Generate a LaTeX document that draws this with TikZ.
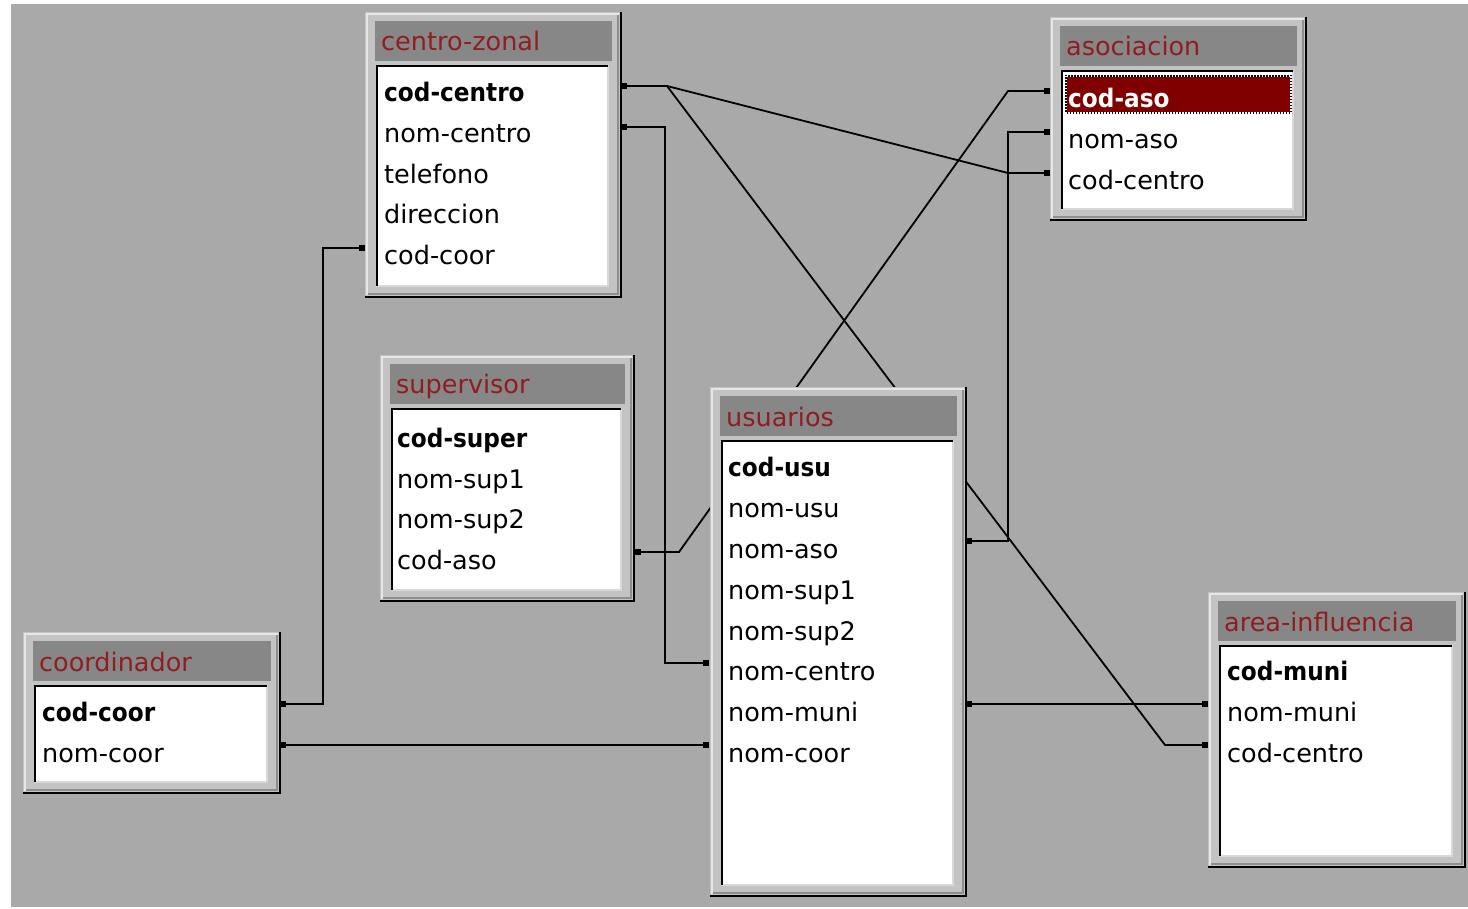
\documentclass[tikz,border=0pt]{standalone}
\usepackage{fontspec}
\setmainfont{DejaVu Sans}
\definecolor{bggray}{HTML}{A9A9A9}
\definecolor{framegray}{HTML}{C3C3C3}
\definecolor{framelight}{HTML}{E6E6E6}
\definecolor{framedark}{HTML}{8E8E8E}
\definecolor{headgray}{HTML}{878787}
\definecolor{listlight}{HTML}{D8D8D8}
\definecolor{titlered}{HTML}{8E1E22}
\definecolor{selred}{HTML}{800000}
\newcommand{\keyf}[1]{\scalebox{0.91}[1]{\bfseries #1}}
\newcommand{\dbtable}[6]{%
  \fill[framegray] (#2,#3) rectangle (#4,#5);
  \draw[framelight, line width=2pt] (#2+2,#5-3) -- (#2+2,#3+2) -- (#4-3,#3+2);
  \draw[framedark, line width=2pt] (#2+3,#5-4) -- (#4-4,#5-4) -- (#4-4,#3+3);
  \draw[black, line width=2.5pt] (#2,#5-1.2) -- (#4-1.2,#5-1.2) -- (#4-1.2,#3);
  \fill[headgray] (#2+10,#3+9) rectangle (#4-10,#3+49);
  \node[titletext] (#1-title) at (#2+16,#3+39) {#6};
  \fill[white] (#2+11,#3+53) rectangle (#4-14,#5-12);
  \draw[listlight, line width=2pt] (#2+11,#5-12) -- (#4-14,#5-12) -- (#4-14,#3+53);
  \draw[black, line width=2pt] (#2+12,#5-12) -- (#2+12,#3+54) -- (#4-14,#3+54);
}
\tikzset{
  conn/.style={line width=1.8pt, black},
  enddot/.style={rectangle, fill=black, minimum size=6pt, inner sep=0pt},
  rowtext/.style={anchor=base west, inner sep=0pt, font=\fontsize{25.5}{30}\selectfont, text=black},
  titletext/.style={anchor=base west, inner sep=0pt, font=\fontsize{25.5}{30}\selectfont, text=titlered},
}
\begin{document}
\begin{tikzpicture}[x=1pt,y=-1pt]
\useasboundingbox (0,0) rectangle (1468,909);
\fill[white] (0,0) rectangle (1468,909);
\fill[bggray] (11,4) rectangle (1468,907);

% connector end coordinates
\coordinate (czA) at (624,86);
\coordinate (czB) at (624,127);
\coordinate (czC) at (362,248);
\coordinate (asoA) at (1047,91);
\coordinate (asoB) at (1047,132);
\coordinate (asoC) at (1047,173);
\coordinate (supA) at (638,552);
\coordinate (usuA) at (969,541);
\coordinate (usuB) at (706,663);
\coordinate (usuC) at (969,704);
\coordinate (usuD) at (706,745);
\coordinate (coA) at (283,704);
\coordinate (coB) at (283,745);
\coordinate (arA) at (1205,704);
\coordinate (arB) at (1205,745);
\coordinate (j1) at (667,86);

% connectors (drawn first, tables overlay them)
\draw[conn] (czA) -- (j1) -- (1008,173) -- (asoC);
\draw[conn] (j1) -- (1165,745) -- (arB);
\draw[conn] (czB) -- (665,127) -- (665,663) -- (usuB);
\draw[conn] (czC) -- (323,248) -- (323,704) -- (coA);
\draw[conn] (coB) -- (usuD);
\draw[conn] (supA) -- (679,552) -- (1008,91) -- (asoA);
\draw[conn] (usuA) -- (1008,541) -- (1008,132) -- (asoB);
\draw[conn] (usuC) -- (arA);

% tables
\dbtable{cz}{365}{12}{622}{298}{centro-zonal}
\node[rowtext] (cz-1) at (384,102) {\keyf{cod-centro}};
\node[rowtext] (cz-2) at (384,143) {nom-centro};
\node[rowtext] (cz-3) at (384,184) {telefono};
\node[rowtext] (cz-4) at (384,224) {direccion};
\node[rowtext] (cz-5) at (384,265) {cod-coor};

\dbtable{aso}{1050}{17}{1307}{221}{asociacion}
\fill[selred] (1066,76) rectangle (1291,113);
\draw[black, line width=1.5pt] (1066,76) rectangle (1291,113);
\draw[white, line width=1.5pt, dash pattern=on 1.5pt off 1.5pt] (1066,76) rectangle (1291,113);
\node[rowtext, text=white] (aso-1) at (1068,108) {\keyf{cod-aso}};
\node[rowtext] (aso-2) at (1068,149) {nom-aso};
\node[rowtext] (aso-3) at (1068,190) {cod-centro};

\dbtable{sup}{380}{355}{635}{602}{supervisor}
\node[rowtext] (sup-1) at (397,447) {\keyf{cod-super}};
\node[rowtext] (sup-2) at (397,488) {nom-sup1};
\node[rowtext] (sup-3) at (397,528) {nom-sup2};
\node[rowtext] (sup-4) at (397,569) {cod-aso};

\dbtable{usu}{710}{387}{967}{897}{usuarios}
\node[rowtext] (usu-1) at (728,476) {\keyf{cod-usu}};
\node[rowtext] (usu-2) at (728,517) {nom-usu};
\node[rowtext] (usu-3) at (728,558) {nom-aso};
\node[rowtext] (usu-4) at (728,599) {nom-sup1};
\node[rowtext] (usu-5) at (728,640) {nom-sup2};
\node[rowtext] (usu-6) at (728,680) {nom-centro};
\node[rowtext] (usu-7) at (728,721) {nom-muni};
\node[rowtext] (usu-8) at (728,762) {nom-coor};

\dbtable{co}{23}{632}{281}{794}{coordinador}
\node[rowtext] (co-1) at (42,721) {\keyf{cod-coor}};
\node[rowtext] (co-2) at (42,762) {nom-coor};

\dbtable{ar}{1208}{592}{1466}{868}{area-influencia}
\node[rowtext] (ar-1) at (1227,680) {\keyf{cod-muni}};
\node[rowtext] (ar-2) at (1227,721) {nom-muni};
\node[rowtext] (ar-3) at (1227,762) {cod-centro};

% end dots
\foreach \c in {czA,czB,czC,asoA,asoB,asoC,supA,usuA,usuB,usuC,usuD,coA,coB,arA,arB}
  \node[enddot] at (\c) {};
\end{tikzpicture}
\end{document}
